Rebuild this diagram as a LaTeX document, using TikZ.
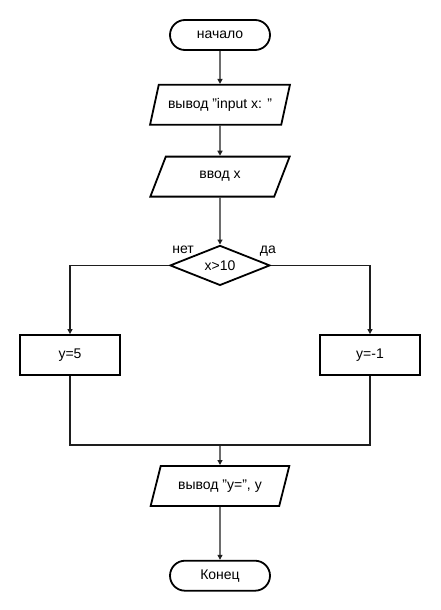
\documentclass[tikz,border=0pt]{standalone}
\usepackage{fontspec}
\setmainfont{Liberation Sans}
\usepackage{xcolor}
\usetikzlibrary{shapes.geometric, arrows.meta, positioning}
\definecolor{linegray}{RGB}{30,30,30}
\tikzset{
    terminal/.style={rectangle, rounded corners=15pt, minimum width=100pt, minimum height=30pt, text centered, draw=black, line width=1.8pt, fill=white, font=\fontsize{14}{16}\selectfont},
    io/.style={trapezium, trapezium left angle=63.4, trapezium right angle=116.6, trapezium stretches=true, minimum width=140pt, minimum height=40pt, inner sep=1pt, text centered, draw=black, line width=1.8pt, fill=white, font=\fontsize{14}{16}\selectfont},
    process/.style={rectangle, minimum width=100pt, minimum height=40pt, text centered, draw=black, line width=1.8pt, fill=white, font=\fontsize{14}{16}\selectfont},
    decision/.style={diamond, shape aspect=2.5, minimum width=100pt, minimum height=40pt, inner sep=0pt, text centered, draw=black, line width=1.8pt, fill=white, font=\fontsize{14}{16}\selectfont},
    lbl/.style={inner sep=1pt, font=\fontsize{14}{16}\selectfont},
    arrow/.style={line width=1.4pt, -{Triangle[length=5pt, width=5pt]}, color=linegray},
    link/.style={line width=1.4pt, color=linegray}
}

\begin{document}
\begin{tikzpicture}[x=1pt, y=-1pt, node distance=30pt]
    \useasboundingbox (0,0) rectangle (440,610);

    % Nodes - main column
    \node (start) [terminal] at (220,35) {начало};
    \node (prompt) [io, below=33pt of start] {вывод "input x: "};
    \node (input) [io, below=of prompt] {ввод x};
    \node (check) [decision, below=47pt of input] {x>10};

    % Branches
    \node (ifno) [process] at (70,355) {y=5};
    \node (ifyes) [process] at (370,355) {y=-1};
    \node (nolbl) [lbl, above right=11pt and 2pt of check.west] {нет};
    \node (yeslbl) [lbl, above=8pt of check.east, xshift=-3pt] {да};

    % Output
    \coordinate (merge) at (220,445);
    \node (result) [io, below=20pt of merge] {вывод "y=", y};
    \node (stop) [terminal, below=53pt of result] {Конец};

    % Arrows
    \draw [arrow] (start) -- (prompt);
    \draw [arrow] (prompt) -- (input);
    \draw [arrow] (input) -- (check);
    \draw [arrow] (check.west) -| (ifno);
    \draw [arrow] (check.east) -| (ifyes);
    \draw [link] (ifno) |- (merge) -| (ifyes);
    \draw [arrow] (merge) -- (result);
    \draw [arrow] (result) -- (stop);
\end{tikzpicture}
\end{document}
